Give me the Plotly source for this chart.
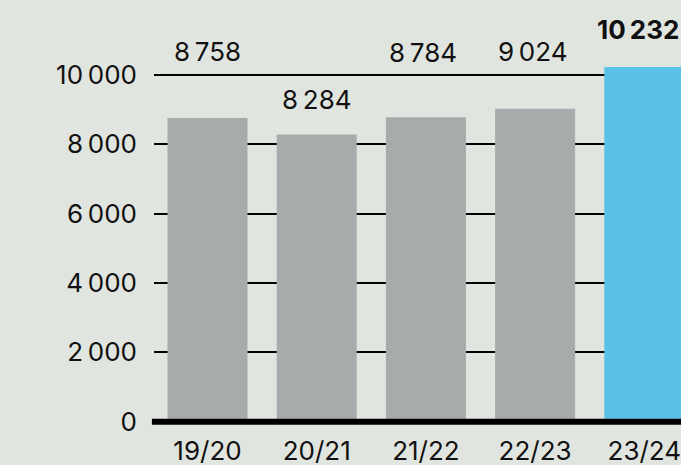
import plotly.graph_objects as go

categories = ["19/20", "20/21", "21/22", "22/23", "23/24"]
values = [8758, 8284, 8784, 9024, 10232]
tick_values = [0, 2000, 4000, 6000, 8000, 10000]

BG = "#e1e5e0"
GREY = "#a8abac"
BLUE = "#5bc2e7"
FONT = "Inter"
FS = 26

def fmt(v):
    return f"{v:,}".replace(",", "\u2009")

colors = [GREY] * (len(values) - 1) + [BLUE]
label_shift = [67, 35, 65, 57, 37]
label_xshift = [0, 0, -3, -2, -6]
label_bold = [False, False, False, False, True]

fig = go.Figure()
fig.add_trace(go.Bar(
    x=list(range(len(categories))), y=values,
    marker=dict(color=colors, line=dict(width=0)),
    hoverinfo="skip",
))

for i, (v, sh, xs, b) in enumerate(zip(values, label_shift, label_xshift, label_bold)):
    fig.add_annotation(
        x=i, y=v, yshift=sh, xshift=xs, text=(f"<b>{fmt(v)}</b>" if b else fmt(v)),
        showarrow=False, yanchor="middle", xanchor="center",
        font=dict(family=FONT, size=FS, color="#111111"),
    )

fig.add_shape(type="line", xref="paper", yref="y", x0=-0.004, x1=1, y0=0, y1=0,
              line=dict(color="#000000", width=6), layer="above")

fig.update_layout(
    width=681, height=465,
    margin=dict(l=154, r=0, t=10, b=40),
    paper_bgcolor=BG, plot_bgcolor=BG,
    bargap=0.267,
    showlegend=False,
    font=dict(family=FONT, size=FS, color="#111111"),
    xaxis=dict(
        range=[-0.49, 4.336],
        tickvals=list(range(len(categories))), ticktext=categories,
        showgrid=False, zeroline=False, showline=False, ticks="",
        ticklabelstandoff=8,
        ticklabeloverflow="allow",
        tickfont=dict(family=FONT, size=FS, color="#111111"),
    ),
    yaxis=dict(
        range=[-95, 11875],
        tickvals=tick_values, ticktext=[fmt(t) for t in tick_values],
        showgrid=True, gridcolor="#000000", gridwidth=2,
        zeroline=False, showline=False, ticks="",
        ticklabelstandoff=16,
        tickfont=dict(family=FONT, size=FS, color="#111111"),
    ),
)

fig.write_html(
    "out.html",
    config={"displayModeBar": False, "staticPlot": True},
    post_script="document.body.style.margin='0';document.body.style.overflow='hidden';",
)
